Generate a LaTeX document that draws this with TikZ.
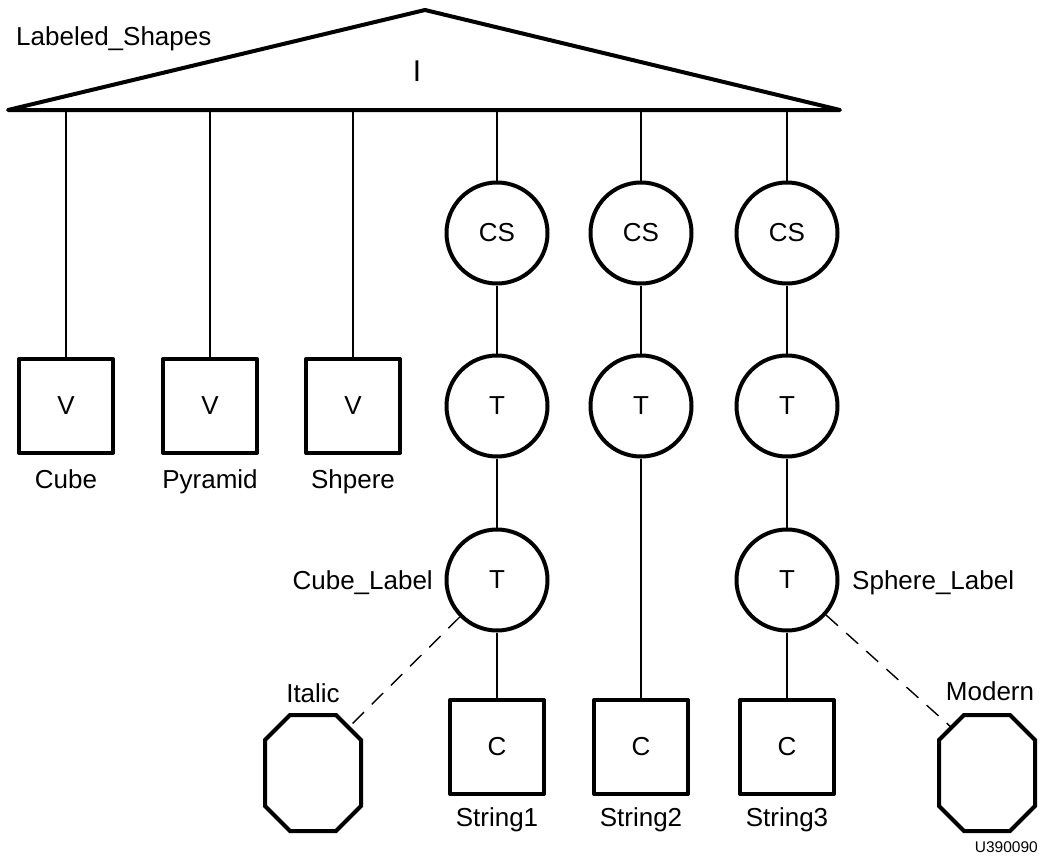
\documentclass[tikz,border=0pt]{standalone}
\usepackage{fontspec}
\setmainfont{Liberation Sans}

\begin{document}
\begin{tikzpicture}[
	x=1pt,
	y=-1pt,
	font=\fontsize{26}{30}\selectfont,
	line cap=round,
	line join=round,
	hair/.style={line width=1.4pt},
	heavy/.style={line width=4pt},
	vbox/.style={draw,heavy,rectangle,minimum size=94pt,inner sep=0pt},
	tnode/.style={draw,heavy,circle,minimum size=101pt,inner sep=0pt},
	octbox/.style={rectangle,minimum width=96pt,minimum height=116pt,inner sep=0pt,outer sep=0pt},
	lbl/.style={anchor=base,inner sep=0pt},
	link/.style={draw,hair,line cap=butt},
	dashlink/.style={draw,hair,line cap=butt,dash pattern=on 16pt off 11pt}
	]
	
	\useasboundingbox (0,0) rectangle (1042,857);
	
	% basic values
	\pgfmathsetmacro{\rowcs}{233}
	\pgfmathsetmacro{\rowt}{406}
	\pgfmathsetmacro{\rowlabel}{580}
	\pgfmathsetmacro{\rowc}{747}
	\def\chamfer{25pt}
	
	% instance triangle
	\coordinate (apex) at (425,10);
	\coordinate (baseL) at (8,110);
	\coordinate (baseR) at (840,110);
	\draw[heavy] (baseL) -- (apex) -- (baseR) -- cycle;
	\node[font=\fontsize{30}{34}\selectfont] (iname) at (417,71) {I};
	\node[lbl,anchor=base west] (shapesname) at (16,45) {Labeled\_Shapes};
	
	% V boxes
	\node[vbox] (cube) at (66,\rowt) {V};
	\node[vbox] (pyramid) at (210,\rowt) {V};
	\node[vbox] (shpere) at (353,\rowt) {V};
	
	\node[lbl] (cubename) at (66,488) {Cube};
	\node[lbl] (pyramidname) at (210,488) {Pyramid};
	\node[lbl] (shpername) at (353,488) {Shpere};
	
	% CS and T circles
	\node[tnode] (csA) at (497,\rowcs) {CS};
	\node[tnode] (csB) at (641,\rowcs) {CS};
	\node[tnode] (csC) at (787,\rowcs) {CS};
	
	\node[tnode] (tA) at (497,\rowt) {T};
	\node[tnode] (tB) at (641,\rowt) {T};
	\node[tnode] (tC) at (787,\rowt) {T};
	
	\node[tnode] (cubelabel) at (497,\rowlabel) {T};
	\node[tnode] (spherelabel) at (787,\rowlabel) {T};
	
	\node[lbl,anchor=base east] (cubelabelname) at (433,589) {Cube\_Label};
	\node[lbl,anchor=base west] (spherelabelname) at (852,589) {Sphere\_Label};
	
	% C boxes
	\node[vbox] (stringA) at (497,\rowc) {C};
	\node[vbox] (stringB) at (641,\rowc) {C};
	\node[vbox] (stringC) at (787,\rowc) {C};
	
	\node[lbl] (stringAname) at (497,826) {String1};
	\node[lbl] (stringBname) at (641,826) {String2};
	\node[lbl] (stringCname) at (787,826) {String3};
	
	% font octagons
	\node[octbox] (italic) at (313,773) {};
	\node[octbox] (modern) at (987,773) {};
	
	\foreach \oct in {italic,modern}
	\draw[heavy,line join=miter]
	([xshift=\chamfer]\oct.north west) -- ([xshift=-\chamfer]\oct.north east)
	-- ([yshift=-\chamfer]\oct.north east) -- ([yshift=\chamfer]\oct.south east)
	-- ([xshift=-\chamfer]\oct.south east) -- ([xshift=\chamfer]\oct.south west)
	-- ([yshift=\chamfer]\oct.south west) -- ([yshift=-\chamfer]\oct.north west)
	-- cycle;
	
	\coordinate (italicjoin) at ([xshift=-12.5pt,yshift=-12.5pt]italic.north east);
	\coordinate (modernjoin) at ([xshift=12.5pt,yshift=-12.5pt]modern.north west);
	
	\node[lbl] (italicname) at (313,702) {Italic};
	\node[lbl] (modernname) at (990,700) {Modern};
	
	% connectors
	\foreach \child in {cube,pyramid,shpere,csA,csB,csC}
	\draw[link] (\child |- baseL) -- (\child);
	
	\draw[link] (csA) -- (tA);
	\draw[link] (csB) -- (tB);
	\draw[link] (csC) -- (tC);
	
	\draw[link] (tA) -- (cubelabel);
	\draw[link] (tB) -- (stringB);
	\draw[link] (tC) -- (spherelabel);
	
	\draw[link] (cubelabel) -- (stringA);
	\draw[link] (spherelabel) -- (stringC);
	
	\draw[dashlink] (cubelabel) -- (italicjoin);
	\draw[dashlink] (spherelabel) -- (modernjoin);
	
	% figure id
	\node[lbl,anchor=base east,font=\fontsize{15.5}{18}\selectfont] (figid) at (1038,852) {U390090};
	
\end{tikzpicture}
\end{document}
